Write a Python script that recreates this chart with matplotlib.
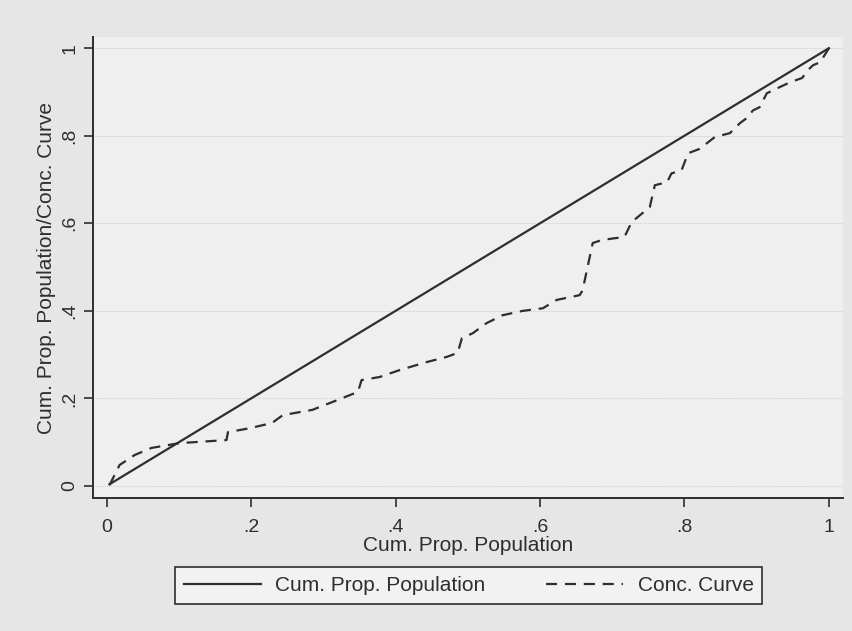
import matplotlib
matplotlib.use("Agg")
import matplotlib.pyplot as plt

# cumulative population share (45-degree line)
cum_pop = [0.004, 1.0]

# concentration curve
conc_x = [0.004, 0.018, 0.039, 0.062, 0.101, 0.166, 0.168, 0.198, 0.229, 0.244,
          0.285, 0.319, 0.348, 0.353, 0.378, 0.406, 0.443, 0.471, 0.486, 0.492,
          0.507, 0.526, 0.548, 0.576, 0.604, 0.623, 0.655, 0.659, 0.673, 0.686,
          0.717, 0.727, 0.752, 0.759, 0.776, 0.782, 0.796, 0.805, 0.821, 0.842,
          0.863, 0.877, 0.886, 0.895, 0.904, 0.914, 0.928, 0.946, 0.963, 0.971,
          0.978, 0.988, 1.0]
conc_y = [0.002, 0.048, 0.071, 0.087, 0.098, 0.105, 0.123, 0.132, 0.144, 0.162,
          0.174, 0.196, 0.215, 0.242, 0.249, 0.265, 0.283, 0.295, 0.304, 0.338,
          0.349, 0.372, 0.390, 0.400, 0.406, 0.425, 0.436, 0.447, 0.555, 0.562,
          0.569, 0.603, 0.637, 0.687, 0.694, 0.714, 0.721, 0.760, 0.770, 0.797,
          0.806, 0.829, 0.840, 0.858, 0.865, 0.897, 0.908, 0.922, 0.932, 0.950,
          0.961, 0.968, 1.0]

ticks = [0, 0.2, 0.4, 0.6, 0.8, 1.0]
tick_labels = ["0", ".2", ".4", ".6", ".8", "1"]

plt.rcParams['font.family'] = ['Liberation Sans', 'DejaVu Sans']

fig = plt.figure(figsize=(8.52, 6.31), dpi=100, facecolor="#e6e6e6")
ax = fig.add_axes([0.109, 0.211, 0.880, 0.730], facecolor="#efefef")

ink = "#2e2e2e"
ax.plot(cum_pop, cum_pop, color=ink, lw=1.6, label="Cum. Prop. Population")
ax.plot(conc_x, conc_y, color=ink, lw=1.6, linestyle=(0, (5, 3.5)),
        label="Conc. Curve")

ax.set_xlim(-0.019, 1.019)
ax.set_ylim(-0.027, 1.025)
ax.set_xticks(ticks)
ax.set_xticklabels(tick_labels)
ax.set_yticks(ticks)
ax.set_yticklabels(tick_labels, rotation=90, va="center")
ax.tick_params(axis="both", direction="out", length=6.5, width=1.2,
               color=ink, labelcolor=ink, labelsize=14)
ax.tick_params(axis="x", pad=8.5)
ax.tick_params(axis="y", pad=4)

ax.grid(axis="y", color="#cfcfcf", lw=0.7, ls=(0, (1, 1)))
ax.set_axisbelow(True)

for side in ["top", "right"]:
    ax.spines[side].set_visible(False)
for side in ["left", "bottom"]:
    ax.spines[side].set_color(ink)
    ax.spines[side].set_linewidth(1.4)

ax.set_xlabel("Cum. Prop. Population", fontsize=15, color=ink, labelpad=0.5)
ax.set_ylabel("Cum. Prop. Population/Conc. Curve", fontsize=15,
              color=ink, labelpad=4)

leg = fig.legend(loc="center", bbox_to_anchor=(0.55, 0.072), ncol=2,
                 fontsize=15, frameon=True, fancybox=False, handlelength=3.7,
                 columnspacing=2.9, borderpad=0.42, handletextpad=0.7)
leg.get_frame().set_edgecolor(ink)
leg.get_frame().set_linewidth(1.2)
leg.get_frame().set_facecolor("#f2f2f2")
leg.get_frame().set_alpha(1)
for t in leg.get_texts():
    t.set_color(ink)

fig.savefig("out.png", dpi=100, facecolor=fig.get_facecolor())
